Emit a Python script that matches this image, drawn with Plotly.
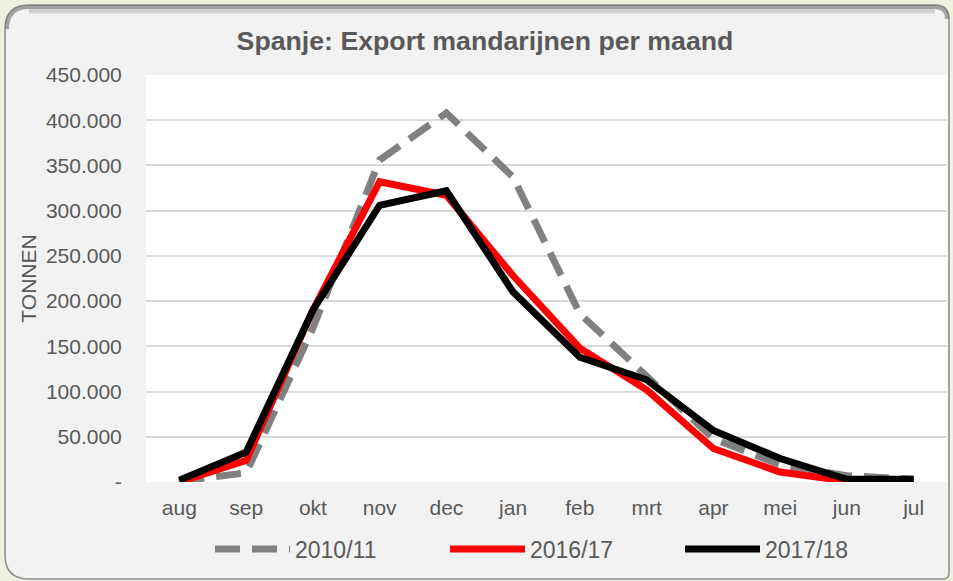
import plotly.graph_objects as go

months = ["aug", "sep", "okt", "nov", "dec", "jan", "feb", "mrt", "apr", "mei", "jun", "jul"]
s2010_11 = [1000, 10000, 170000, 356000, 408000, 337000, 186000, 117000, 48000, 19000, 7000, 3000]
s2016_17 = [0, 24000, 190000, 332000, 317000, 228000, 148000, 102000, 37000, 11000, 1000, 1000]
s2017_18 = [2000, 33000, 190000, 306000, 322000, 210000, 138000, 113000, 57000, 26000, 3000, 3000]

ytick_vals = [0, 50000, 100000, 150000, 200000, 250000, 300000, 350000, 400000, 450000]
ytick_text = ["-", "50.000", "100.000", "150.000", "200.000", "250.000", "300.000", "350.000", "400.000", "450.000"]

title_text = "Spanje: Export mandarijnen per maand"
yaxis_title = "TONNEN"

W, H = 953, 581
L, R, T, B = 146, 6, 75, 99
PW = W - L - R
PH = H - T - B


def px(x):
    return (x - L) / PW


def py(y):
    return (H - B - y) / PH


def P(x, y):
    return f"{px(x):.5f},{py(y):.5f}"


# rounded frame
x0, x1, y0, y1 = 5, 949, 5, 579
rTL, rTR, rBR, rBL = 24, 14, 6, 24
frame_path = (
    f"M {P(x0, y0 + rTL)} Q {P(x0, y0)} {P(x0 + rTL, y0)} "
    f"L {P(x1 - rTR, y0)} Q {P(x1, y0)} {P(x1, y0 + rTR)} "
    f"L {P(x1, y1 - rBR)} Q {P(x1, y1)} {P(x1 - rBR, y1)} "
    f"L {P(x0 + rBL, y1)} Q {P(x0, y1)} {P(x0, y1 - rBL)} Z"
)
top_path = f"M {P(x0 + 2, y0 + rTL)} Q {P(x0 + 2, y0 + 2)} {P(x0 + rTL, y0 + 2)} L {P(x1 - rTR, y0 + 2)} Q {P(x1 - 2, y0 + 2)} {P(x1 - 2, y0 + rTR)}"
top_path2 = f"M {P(x0 + rTL, y0 + 6)} L {P(x1 - rTR, y0 + 6)}"

fig = go.Figure()

fig.add_trace(go.Scatter(
    x=months, y=s2010_11, name="2010/11", mode="lines",
    line=dict(color="#808080", width=7, dash="25px,12px"),
))
fig.add_trace(go.Scatter(
    x=months, y=s2016_17, name="2016/17", mode="lines",
    line=dict(color="#FF0000", width=7),
))
fig.add_trace(go.Scatter(
    x=months, y=s2017_18, name="2017/18", mode="lines",
    line=dict(color="#000000", width=7),
))

fig.update_layout(
    width=W, height=H,
    margin=dict(l=L, r=R, t=T, b=B, pad=0),
    paper_bgcolor="#EDF2E0",
    plot_bgcolor="rgba(0,0,0,0)",
    font=dict(family="Liberation Sans, Arial, sans-serif", color="#595959", size=21),
    title=dict(
        text=f"<b>{title_text}</b>",
        x=485 / W, xref="container", xanchor="center",
        y=1 - 41 / H, yref="container", yanchor="middle",
        font=dict(size=26.7, color="#595959"),
    ),
    shapes=[
        dict(type="path", xref="paper", yref="paper", path=frame_path,
             fillcolor="#F2F2F2", line=dict(color="#8C8C8C", width=1.5), layer="below"),
        dict(type="path", xref="paper", yref="paper", path=top_path,
             line=dict(color="rgba(110,110,110,0.6)", width=4), layer="below"),
        dict(type="path", xref="paper", yref="paper", path=top_path2,
             line=dict(color="rgba(150,150,150,0.35)", width=5), layer="below"),
        dict(type="rect", xref="paper", yref="paper", x0=0, x1=1, y0=0, y1=1,
             fillcolor="#FFFFFF", line=dict(width=0), layer="below"),
    ],
    showlegend=True,
    legend=dict(
        orientation="h",
        x=(210 - L) / PW, xanchor="left",
        y=py(549), yanchor="middle",
        bgcolor="rgba(0,0,0,0)",
        font=dict(size=23, color="#595959"),
        itemwidth=75,
        entrywidth=145, entrywidthmode="pixels",
        traceorder="normal",
    ),
    xaxis=dict(
        type="category",
        range=[-0.5, 11.5],
        showgrid=False, zeroline=False, showline=False,
        ticks="outside", ticklen=7, tickcolor="rgba(0,0,0,0)",
        tickfont=dict(size=21, color="#595959"),
        fixedrange=True,
    ),
    yaxis=dict(
        range=[0, 450000],
        tickvals=ytick_vals, ticktext=ytick_text,
        showgrid=True, gridcolor="#D9D9D9", gridwidth=2,
        zeroline=False, showline=False,
        ticks="outside", ticklen=19, tickcolor="rgba(0,0,0,0)",
        tickfont=dict(size=21, color="#595959"),
        title=dict(text=yaxis_title, font=dict(size=21, color="#595959"), standoff=3),
        fixedrange=True,
    ),
)

fig.write_html(
    "out.html",
    config={"displayModeBar": False},
    post_script="document.body.style.margin='0';document.body.style.background='#EDF2E0';",
)
